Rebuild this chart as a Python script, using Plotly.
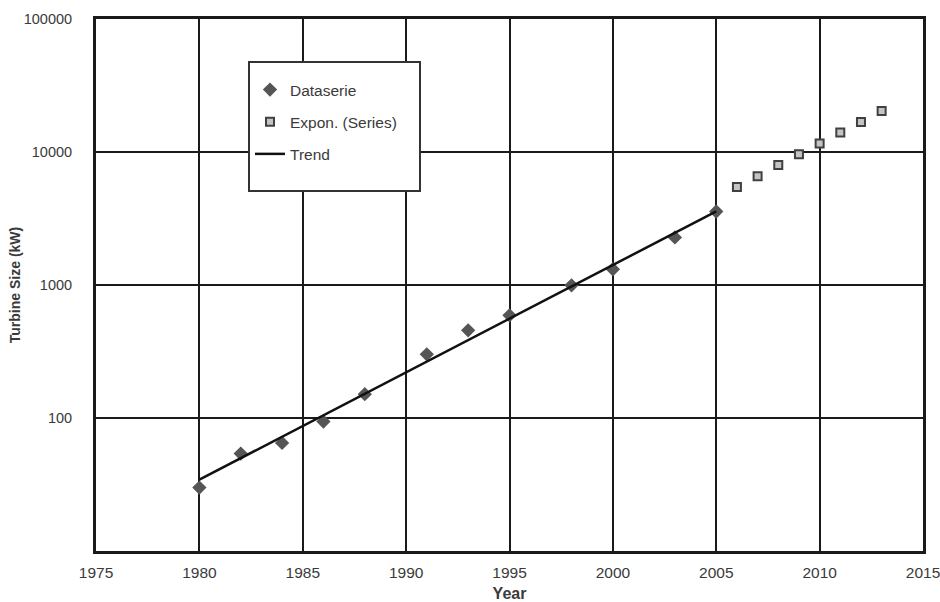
import plotly.graph_objects as go

# Observed turbine sizes (kW) by year of introduction
data_years = [1980, 1982, 1984, 1986, 1988, 1991, 1993, 1995, 1998, 2000, 2003, 2005]
data_kw = [30, 54, 65, 94, 151, 301, 456, 592, 995, 1313, 2280, 3570]

# Exponential extrapolation beyond 2005
expon_years = [2006, 2007, 2008, 2009, 2010, 2011, 2012, 2013]
expon_kw = [5460, 6560, 7980, 9620, 11570, 14000, 16830, 20330]

# Fitted trend line end points
trend_years = [1980, 2005]
trend_kw = [34.4, 3580]

x_ticks = [1975, 1980, 1985, 1990, 1995, 2000, 2005, 2010, 2015]
y_ticks = [100, 1000, 10000, 100000]
y_tick_text = ["100", "1000", "10000", "100000"]

FONT = "Liberation Sans, Arial, Helvetica, sans-serif"
GREY = "#555555"
TEXT = "#3a3a3a"

# plot-area geometry in pixels (used for the legend frame)
W, H = 940, 602
L, R, T, B = 96, 17, 19, 51
PW, PH = W - L - R, H - T - B


def px_x(px):
    return (px - L) / PW


def px_y(py):
    return 1 - (py - T) / PH


fig = go.Figure()
fig.add_trace(go.Scatter(
    x=data_years, y=data_kw, mode="markers", name="Dataserie",
    legendgroup="a",
    marker=dict(symbol="diamond", size=11, color=GREY),
))
fig.add_trace(go.Scatter(
    x=expon_years, y=expon_kw, mode="markers", name="Expon. (Series)",
    legendgroup="b",
    marker=dict(symbol="square", size=8, color="#c4c4c4",
                line=dict(color="#404040", width=2)),
))
fig.add_trace(go.Scatter(
    x=trend_years, y=trend_kw, mode="lines", name="Trend",
    legendgroup="c",
    line=dict(color="#111111", width=2.5),
))

# legend frame
fig.add_shape(
    type="rect", xref="paper", yref="paper", layer="above",
    x0=px_x(249), x1=px_x(420), y0=px_y(191), y1=px_y(62),
    fillcolor="white", line=dict(color="#333333", width=2),
)

fig.update_layout(
    width=W, height=H,
    margin=dict(l=L, r=R, t=T, b=B),
    paper_bgcolor="white", plot_bgcolor="white",
    font=dict(family=FONT, size=15, color=TEXT),
    showlegend=True,
    legend=dict(
        x=px_x(250), y=px_y(73),
        xanchor="left", yanchor="top",
        bgcolor="rgba(0,0,0,0)", borderwidth=0,
        tracegroupgap=9,
        font=dict(family=FONT, size=15.5, color=TEXT),
        itemwidth=30,
    ),
)

fig.update_xaxes(
    range=[1975, 2015], tickvals=x_ticks, automargin=False,
    ticklabeloverflow="allow",
    showgrid=True, gridcolor="#1a1a1a", gridwidth=2,
    showline=True, linecolor="#1a1a1a", linewidth=3, mirror=True,
    ticks="", ticklabelstandoff=5, zeroline=False,
    tickfont=dict(family=FONT, size=15.5, color=TEXT),
    title=dict(text="<b>Year</b>", standoff=13,
               font=dict(family=FONT, size=16, color=TEXT)),
)
fig.update_yaxes(
    type="log", range=[1, 5], tickvals=y_ticks, ticktext=y_tick_text,
    automargin=False,
    showgrid=True, gridcolor="#1a1a1a", gridwidth=2,
    showline=True, linecolor="#1a1a1a", linewidth=3, mirror=True,
    ticks="", ticklabelstandoff=18, zeroline=False,
    tickfont=dict(family=FONT, size=14.5, color=TEXT),
    title=dict(text="<b>Turbine Size (kW)</b>", standoff=0,
               font=dict(family=FONT, size=14, color=TEXT)),
)

fig.write_html("out.html")
